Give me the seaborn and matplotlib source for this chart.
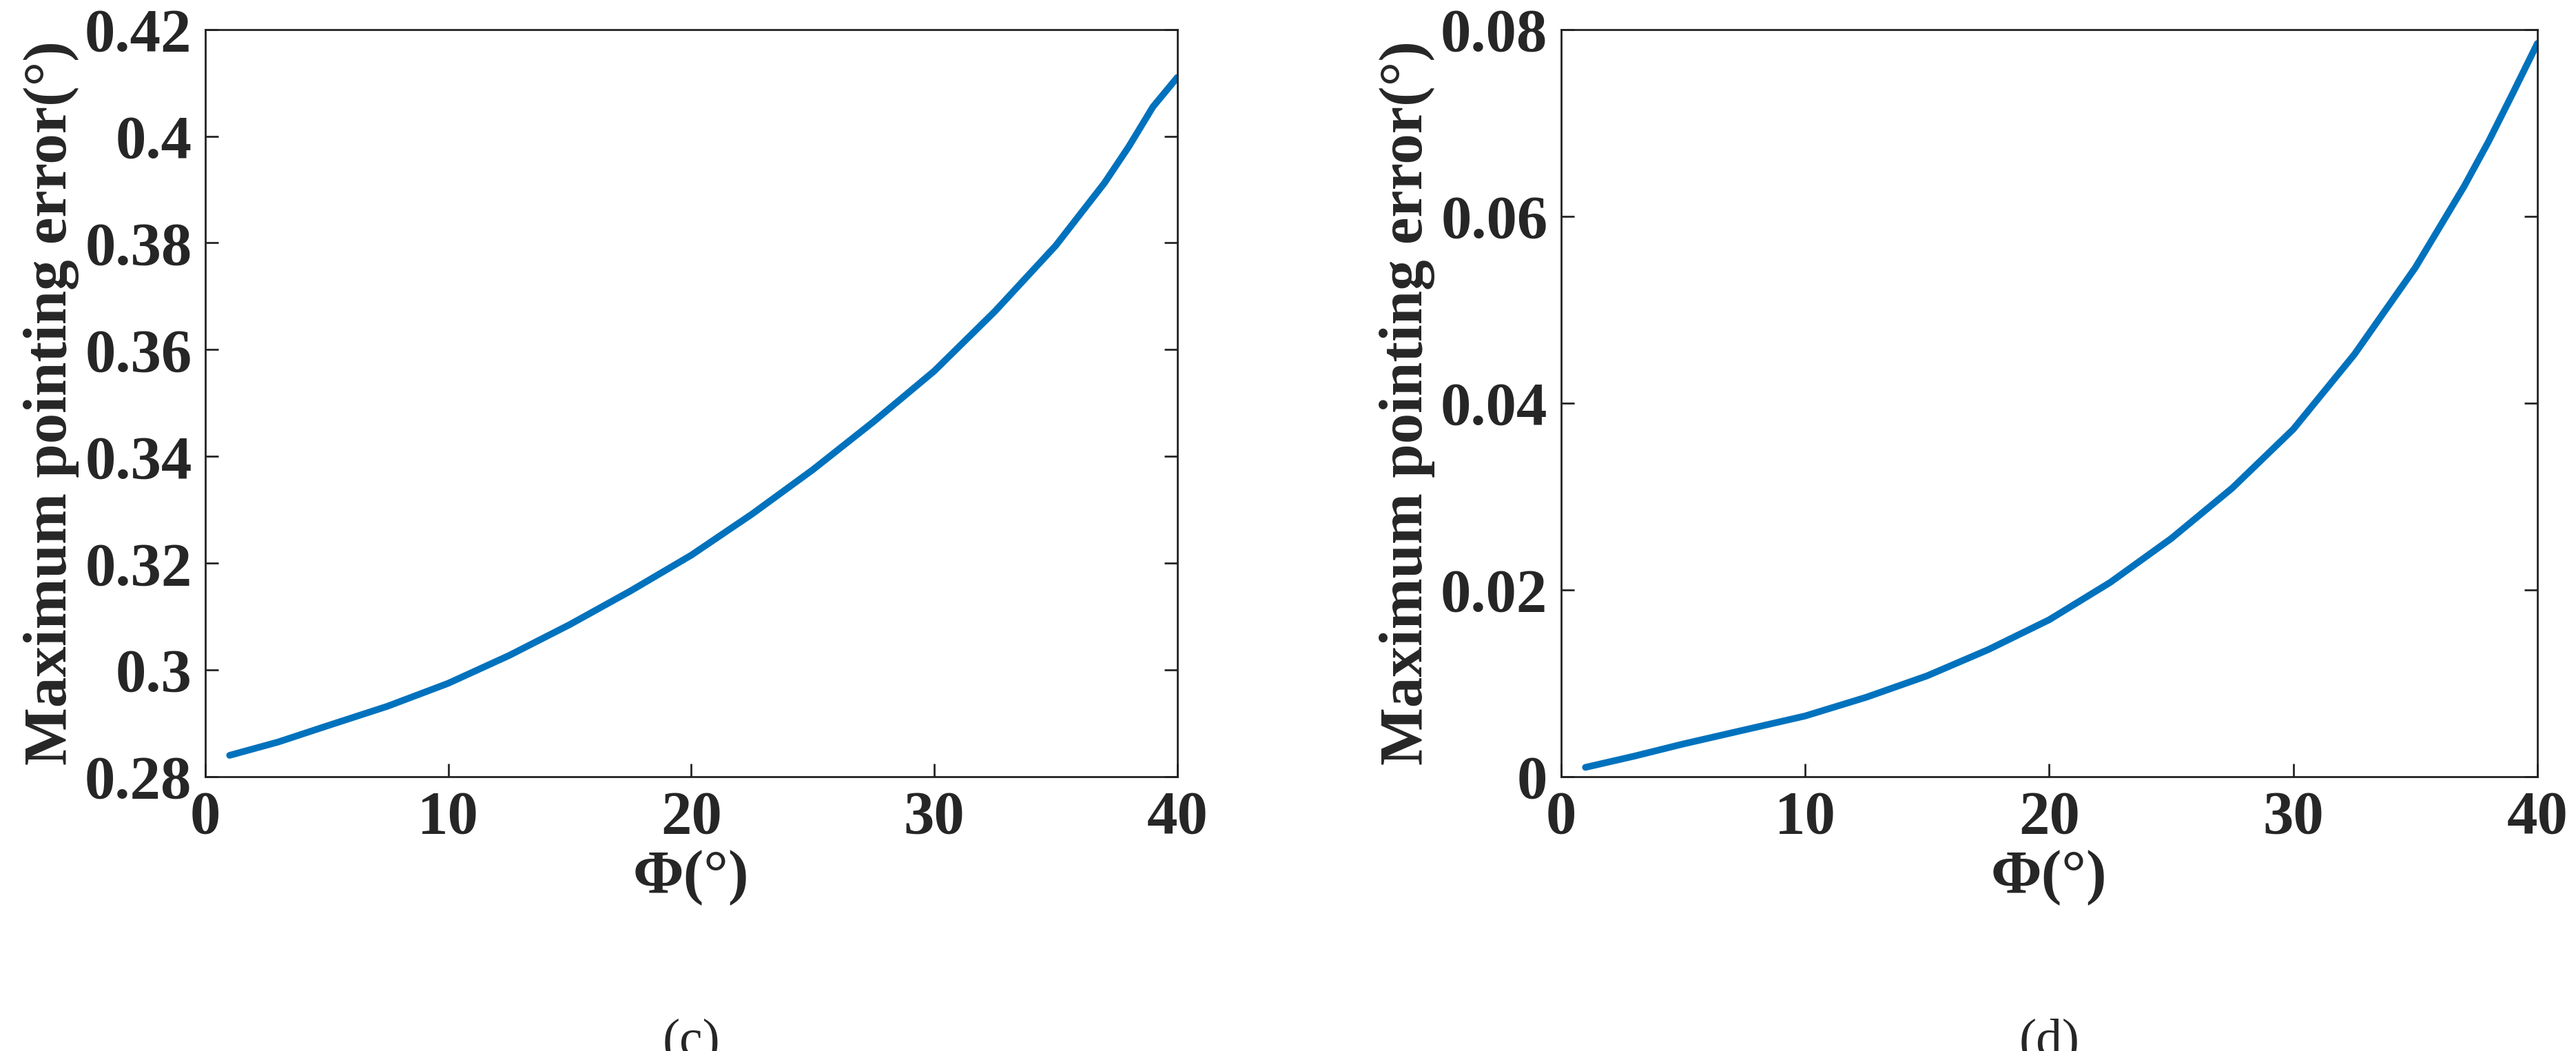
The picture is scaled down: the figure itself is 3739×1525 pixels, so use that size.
import matplotlib
matplotlib.use("Agg")
import matplotlib.pyplot as plt
import seaborn as sns
import pandas as pd

phi = [1, 3, 5, 7.5, 10, 12.5, 15, 17.5, 20, 22.5, 25, 27.5, 30, 32.5, 35, 37, 38, 39, 40]
err_c = [0.284, 0.2865, 0.2895, 0.2932, 0.2975, 0.3027, 0.3085, 0.3148, 0.3215, 0.3292, 0.3375, 0.3465, 0.356, 0.3672, 0.3795, 0.3912, 0.398, 0.4055, 0.411]
err_d = [0.001, 0.0022, 0.0035, 0.005, 0.0065, 0.0085, 0.0108, 0.0136, 0.0168, 0.0208, 0.0255, 0.0309, 0.0372, 0.0452, 0.0545, 0.0632, 0.068, 0.0732, 0.0785]

sns.set_theme(style="ticks")
plt.rcParams['font.family'] = ['Liberation Serif', 'DejaVu Serif']
plt.rcParams['font.weight'] = 'bold'
plt.rcParams['axes.labelweight'] = 'bold'
FS = 64

fig = plt.figure(figsize=(37.39, 15.25), dpi=100)
axes = [fig.add_axes([0.0797, 0.261, 0.3773, 0.711]),
        fig.add_axes([0.606, 0.261, 0.379, 0.711])]
datas = [err_c, err_d]
ylims = [(0.28, 0.42), (0, 0.08)]
yticks = [[0.28, 0.3, 0.32, 0.34, 0.36, 0.38, 0.4, 0.42], [0, 0.02, 0.04, 0.06, 0.08]]
ylabs = [["0.28", "0.3", "0.32", "0.34", "0.36", "0.38", "0.4", "0.42"], ["0", "0.02", "0.04", "0.06", "0.08"]]
letters = ["(c)", "(d)"]
for ax, d, yl, yt, ytl, lt in zip(axes, datas, ylims, yticks, ylabs, letters):
    df = pd.DataFrame({"phi": phi, "err": d})
    sns.lineplot(data=df, x="phi", y="err", ax=ax, color="#0072BD", linewidth=7)
    ax.set_xlim(0, 40)
    ax.set_ylim(*yl)
    ax.set_xticks([0, 10, 20, 30, 40])
    ax.set_yticks(yt)
    ax.set_yticklabels(ytl)
    ax.tick_params(direction="in", length=14, width=2, labelsize=FS, top=False, right=True, pad=14)
    for lab in ax.get_xticklabels() + ax.get_yticklabels():
        lab.set_fontweight("bold")
    for s in ax.spines.values():
        s.set_linewidth(2)
        s.set_color("#222222")
    ax.set_xlabel("Φ(°)", fontsize=FS, fontweight="bold", labelpad=4)
    ax.set_ylabel("Maximum pointing error(°)", fontsize=FS, fontweight="bold", labelpad=6)
    ax.text(0.5, -0.355, lt, transform=ax.transAxes, ha="center", va="center", fontsize=FS * 0.85, fontweight="normal")
fig.savefig("out.png", dpi=100)
